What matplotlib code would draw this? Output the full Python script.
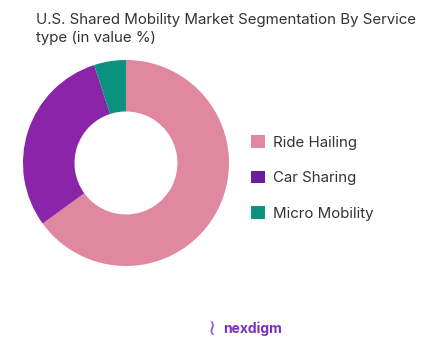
import matplotlib.pyplot as plt
from matplotlib.patches import Patch

plt.rcParams['font.family'] = ['Inter', 'DejaVu Sans']

# segment data (value %)
labels = ['Ride Hailing', 'Car Sharing', 'Micro Mobility']
shares = [65, 30, 5]
wedge_colors = ['#DF889F', '#8A24A9', '#0A9180']
legend_colors = ['#DF889F', '#6C1C9C', '#0A9180']

TITLE = "U.S. Shared Mobility Market Segmentation By Service\ntype (in value %)"

fig = plt.figure(figsize=(4.48, 3.44), dpi=100)
fig.patch.set_facecolor('white')

# donut axes placed so the ring sits left of centre
ax = fig.add_axes([0.0513, 0.2267, 0.4598, 0.599])
ax.pie(shares, colors=wedge_colors, startangle=90, counterclock=False,
       wedgeprops=dict(width=0.5, edgecolor='none'))
ax.set_xlim(-1, 1)
ax.set_ylim(-1, 1)
ax.set_aspect('equal')

fig.text(0.08, 0.962, TITLE, fontsize=10.8, color='#333333',
         ha='left', va='top', linespacing=1.35)

handles = [Patch(facecolor=c, edgecolor='none') for c in legend_colors]
fig.legend(handles, labels, loc='center left', bbox_to_anchor=(0.53, 0.483),
           frameon=False, fontsize=10.8, labelcolor='#333333',
           handlelength=0.95, handleheight=0.95, handletextpad=0.55,
           labelspacing=1.4)

# footer logo
fig.text(0.473, 0.045, "\u2240", fontsize=16, color='#9B59D0',
         ha='center', va='center')
fig.text(0.497, 0.045, "nexdigm", fontsize=10, color='#7A2FC0',
         fontweight='bold', ha='left', va='center')

fig.savefig('out.png', dpi=100)
